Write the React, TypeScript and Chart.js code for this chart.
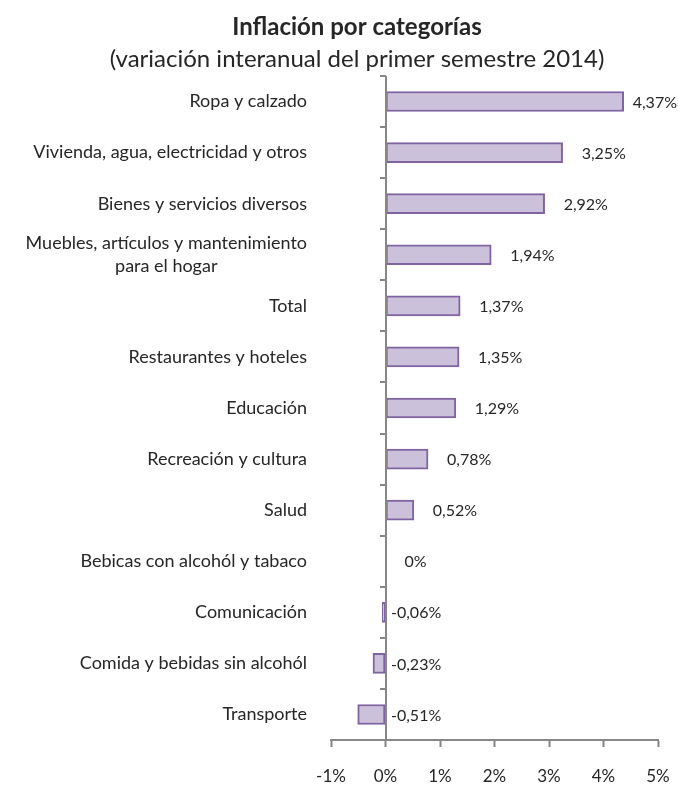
import React, { useEffect, useRef } from "react";
import { Chart, registerables } from "chart.js";

Chart.register(...registerables);

const titleText = "Inflación por categorías";
const subtitleText = "(variación interanual del primer semestre 2014)";

const categories: string[][] = [
  ["Ropa y calzado"],
  ["Vivienda, agua, electricidad y otros"],
  ["Bienes y servicios diversos"],
  ["Muebles, artículos y mantenimiento", "para el hogar"],
  ["Total"],
  ["Restaurantes y hoteles"],
  ["Educación"],
  ["Recreación y cultura"],
  ["Salud"],
  ["Bebicas con alcohól y tabaco"],
  ["Comunicación"],
  ["Comida y bebidas sin alcohól"],
  ["Transporte"],
];

const values = [4.37, 3.25, 2.92, 1.94, 1.37, 1.35, 1.29, 0.78, 0.52, 0, -0.06, -0.23, -0.51];
const valueLabels = ["4,37%", "3,25%", "2,92%", "1,94%", "1,37%", "1,35%", "1,29%", "0,78%", "0,52%", "0%", "-0,06%", "-0,23%", "-0,51%"];

const xMin = -1;
const xMax = 5;
const xTickLabels: Record<string, string> = { "-1": "-1%", "0": "0%", "1": "1%", "2": "2%", "3": "3%", "4": "4%", "5": "5%" };

const FONT = "Lato";
const TEXT = "#262626";
const AXIS = "#878787";

const decorPlugin = {
  id: "decor",
  afterDatasetsDraw(chart: any) {
    const { ctx, chartArea, scales } = chart;
    const xs = scales.x;
    const ys = scales.y;
    const x0 = Math.round(xs.getPixelForValue(0));
    ctx.save();
    // zero line
    ctx.strokeStyle = AXIS;
    ctx.lineWidth = 2;
    ctx.beginPath();
    ctx.moveTo(x0, chartArea.top);
    ctx.lineTo(x0, chartArea.bottom);
    ctx.stroke();
    // category tick marks at boundaries
    const n = categories.length;
    for (let i = 0; i < n; i++) {
      const c = ys.getPixelForValue(i);
      const prev = i === 0 ? chartArea.top : (ys.getPixelForValue(i - 1) + c) / 2;
      const y = Math.round(prev);
      ctx.beginPath();
      ctx.moveTo(x0 - 6, y);
      ctx.lineTo(x0, y);
      ctx.stroke();
    }
    // value labels
    ctx.fillStyle = TEXT;
    ctx.font = `16px ${FONT}`;
    ctx.textBaseline = "middle";
    ctx.textAlign = "left";
    values.forEach((v, i) => {
      const label = valueLabels[i];
      const w = ctx.measureText(label).width;
      const y = ys.getPixelForValue(i) + 1;
      let x: number;
      if (v >= 0) {
        x = Math.min(xs.getPixelForValue(v) + 19, chart.width - w - 1);
      } else {
        x = x0 + 5;
      }
      ctx.fillText(label, x, y);
    });
    // category labels
    ctx.font = `18px ${FONT}`;
    ctx.textAlign = "center";
    const right = chartArea.left - 24;
    categories.forEach((lines, i) => {
      const bw = Math.max(...lines.map((l) => ctx.measureText(l).width));
      const cx = right - bw / 2;
      const lh = 23;
      const cy = ys.getPixelForValue(i);
      lines.forEach((l, j) => {
        const y = cy + (j - (lines.length - 1) / 2) * lh;
        ctx.fillText(l, cx, y);
      });
    });
    // titles
    const tx = 357;
    ctx.font = `bold 24px ${FONT}`;
    ctx.fillText(titleText, tx, 27);
    ctx.font = `24px ${FONT}`;
    ctx.fillText(subtitleText, tx, 59);
    ctx.restore();
  },
};

export default function App() {
  const canvasRef = useRef<HTMLCanvasElement | null>(null);

  useEffect(() => {
    if (!canvasRef.current) return;
    const chart = new Chart(canvasRef.current, {
      type: "bar",
      data: {
        labels: categories,
        datasets: [
          {
            data: values,
            backgroundColor: "#ccc1da",
            borderColor: "#8064a2",
            borderWidth: 2,
            borderSkipped: false,
            barThickness: 20,
          },
        ],
      },
      options: {
        indexAxis: "y",
        animation: false,
        responsive: true,
        maintainAspectRatio: false,
        layout: { padding: { top: 76, right: 20, left: 0, bottom: 0 } },
        plugins: {
          legend: { display: false },
          tooltip: { enabled: false },
          title: { display: false },
        },
        scales: {
          x: {
            min: xMin,
            max: xMax,
            ticks: {
              stepSize: 1,
              padding: 19,
              color: TEXT,
              font: { family: FONT, size: 17 },
              callback: (v: any) => xTickLabels[String(v)] ?? `${v}%`,
            },
            grid: {
              drawOnChartArea: false,
              color: AXIS,
              tickColor: AXIS,
              tickLength: 7,
              tickWidth: 2,
            },
            border: { color: AXIS, width: 2 },
            afterFit: (s: any) => {
              s.height = 45;
              s.paddingLeft = 0;
              s.paddingRight = 0;
            },
          },
          y: {
            ticks: { display: false },
            grid: { display: false },
            border: { display: false },
            afterFit: (s: any) => {
              s.width = 331;
            },
          },
        },
      },
      plugins: [decorPlugin],
    } as any);
    return () => chart.destroy();
  }, []);

  return (
    <div style={{ position: "fixed", left: 0, top: 0, width: 678, height: 785, background: "#fff" }}>
      <canvas ref={canvasRef} />
    </div>
  );
}
